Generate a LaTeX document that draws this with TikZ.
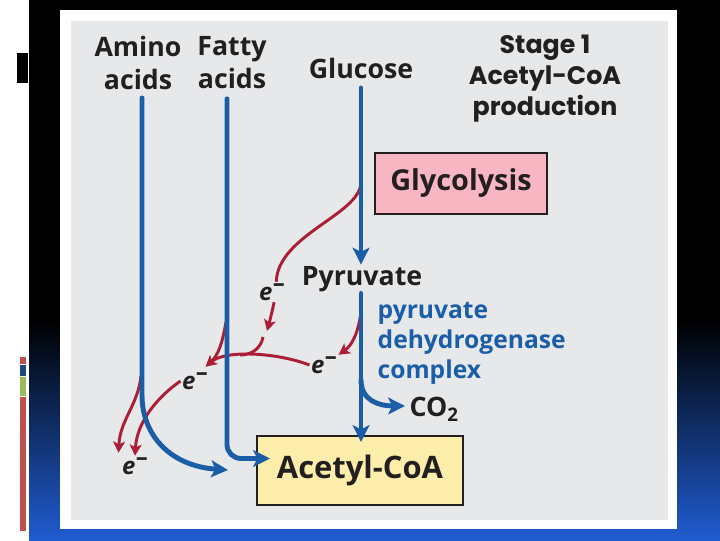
\documentclass[tikz,border=0pt]{standalone}
\usepackage{fontspec}
\setmainfont{Open Sans}
\newfontfamily\stagefont{Poppins}
\usetikzlibrary{arrows.meta,calc}
\definecolor{panelgray}{RGB}{231,232,234}
\definecolor{slideblue}{RGB}{32,92,208}
\definecolor{inkdark}{RGB}{35,31,32}
\definecolor{pathblue}{RGB}{26,94,168}
\definecolor{ered}{RGB}{172,30,54}
\definecolor{glypink}{RGB}{248,182,194}
\definecolor{coayellow}{RGB}{252,238,170}
\definecolor{barred}{RGB}{192,80,77}
\definecolor{barblue}{RGB}{31,73,125}
\definecolor{bargreen}{RGB}{155,187,89}
\newcommand{\elec}{e\kern0.2pt\raisebox{0.38em}{\fontsize{17}{17}\selectfont\upshape –}}
\tikzset{
  lbl/.style    ={font=\bfseries\fontsize{19}{23.5}\selectfont, text=inkdark,
                  align=center, inner sep=1pt},
  stagelbl/.style={font=\stagefont\bfseries\fontsize{18}{22}\selectfont,
                  text=inkdark, align=center, inner sep=1pt},
  enzlbl/.style ={font=\bfseries\fontsize{17.5}{21.3}\selectfont, text=pathblue,
                  align=left, inner sep=1pt},
  elbl/.style   ={font=\bfseries\itshape\fontsize{17}{17}\selectfont, text=inkdark,
                  inner sep=1pt},
  stepbox/.style={rectangle, draw=inkdark, line width=1.4pt, text=inkdark},
  flow/.style   ={draw=pathblue, line width=3.5pt, line cap=round,
                  -{Stealth[length=12pt,width=12pt,inset=3pt]}},
  eflow/.style  ={draw=ered, line width=2.1pt, -{Stealth[length=8pt,width=8.5pt,inset=2pt]}},
  eline/.style  ={draw=ered, line width=2.1pt}
}
\begin{document}
\begin{tikzpicture}[x=0.025cm, y=-0.025cm]
\useasboundingbox (0,0) rectangle (720,540);

%% ---- Slide background ----------------------------------------------
\fill[white] (0,0) rectangle (29,540);
\fill[black] (29,0) rectangle (720,540);
\shade[top color=black, bottom color=slideblue] (29,320) rectangle (720,540);
\fill[black] (17,53) rectangle (28,83);
\fill[barred] (20,357) rectangle (26,364);
\fill[barblue] (20,365) rectangle (26,376);
\fill[bargreen] (20,377) rectangle (26,396);
\fill[barred] (20,397) rectangle (26,531);
\fill[white] (60,10) rectangle (677,529);
\fill[panelgray] (71,21) rectangle (668,520);

%% ---- Fuels and stages ----------------------------------------------
\node[lbl] (amino) at (138,63) {Amino\\acids};
\node[lbl] (fatty) at (232,63) {Fatty\\acids};
\node[lbl] (glucose) at (361,68) {Glucose};
\node[stagelbl] (stage) at (545,79) {Stage 1\\Acetyl-CoA\\production};
\node[stepbox, fill=glypink, minimum width=4.3cm, minimum height=1.525cm,
      font=\bfseries\fontsize{20.5}{24}\selectfont] (glyco) at (461,183.5) {Glycolysis};
\node[lbl] (pyruvate) at (362,279) {Pyruvate};
\node[enzlbl, anchor=west] (pdh) at (376,343) {pyruvate\\dehydrogenase\\complex};
\node[lbl, anchor=base west] (co2) at (408,416) {CO\textsubscript{2}};
\node[stepbox, fill=coayellow, minimum width=5.15cm, minimum height=1.725cm,
      font=\bfseries\fontsize{22}{26}\selectfont] (acetyl) at (360,470.5) {Acetyl-CoA};

%% ---- Electron labels -----------------------------------------------
\node[elbl] (eglyc) at (272,292) {\elec};
\node[elbl] (epdh) at (324,365) {\elec};
\node[elbl] (emid) at (195,381) {\elec};
\node[elbl] (ebot) at (135,466) {\elec};

%% ---- Electron flow (red, under the carbon flow) --------------------
\coordinate (glyfork) at (361,183);
\coordinate (pdhfork) at (361,312);
\coordinate (fattyfork) at (226,322);
\coordinate (aminofork) at (141,376);
\draw[eline] (glyfork) .. controls (359,215) and (278,235) .. ([xshift=3pt]eglyc.north);
\draw[eflow] ([xshift=1.5pt]eglyc.south) .. controls (272,312) and (270,320) .. (267,331);
\draw[eline] (263,337) .. controls (261,348) and (252,355) .. (240,355);
\draw[eflow] (pdhfork) .. controls (358,335) and (351,346) .. (epdh.north east);
\draw[eflow] (epdh.west) .. controls (275,352) and (225,350) .. ($(emid.north east)+(-4,-4)$);
\draw[eline] (fattyfork) .. controls (222,345) and (218,355) .. (211,362);
\draw[eflow] (emid.west) .. controls (160,395) and (137,420) .. (ebot.north);
\draw[eflow] (aminofork) .. controls (138,405) and (120,420) .. ($(ebot.north west)+(-2,-3)$);

%% ---- Carbon flow (blue) --------------------------------------------
\coordinate (aminotop) at (142,98);
\coordinate (aminoend) at (228,470);
\coordinate (co2fork) at (361,380);
\draw[flow] ($(glucose.south)+(0,8)$) -- (glucose.south |- pyruvate.north);
\draw[flow] (pyruvate.south -| glucose) -- ($(acetyl.north -| glucose)+(0,7)$);
\draw[flow] (co2fork) .. controls (361,400) and (378,406) .. ($(co2.west)+(-3,-3)$);
\draw[flow] (aminotop) -- (142,395) .. controls (142,435) and (170,466) .. (aminoend);
\draw[flow, rounded corners=10pt] ($(fatty.south)+(-5,8)$) |- ($(acetyl.west)+(14,-12)$);
\end{tikzpicture}
\end{document}
